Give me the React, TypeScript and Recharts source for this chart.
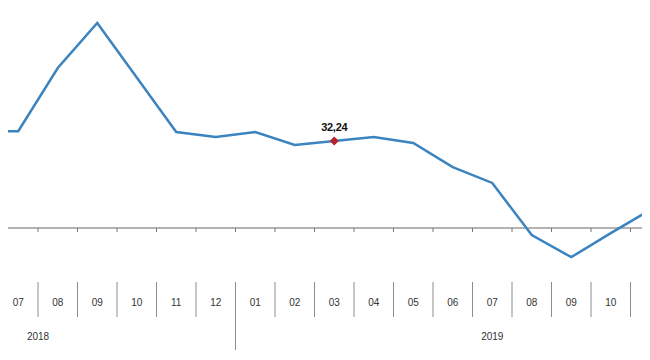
import React from 'react';
import { LineChart, Line, XAxis, YAxis, ReferenceLine } from 'recharts';

// months shown along the axis (06/2018 is half cut off on the left)
const years = [
  '2018', '2018', '2018', '2018', '2018', '2018', '2018',
  '2019', '2019', '2019', '2019', '2019', '2019', '2019', '2019', '2019', '2019', '2019',
];
const months = ['06', '07', '08', '09', '10', '11', '12', '01', '02', '03', '04', '05', '06', '07', '08', '09', '10', '11'];
const values = [35.9, 35.9, 59.3, 76.0, 55.8, 35.6, 33.7, 35.6, 30.8, 32.24, 33.7, 31.5, 22.6, 16.7, -2.6, -10.8, -1.9, 6.7];
const highlightKey = '2019-03';

const data = months.map((m, i) => ({ key: `${years[i]}-${m}`, value: values[i] }));

const CHART_W = 711;
const CHART_H = 360;
const AXIS_H = 95;
const Y_MIN = -13.7;
const Y_MAX = 84.5;
const PLOT_H = CHART_H - AXIS_H;
const ZERO_UP = ((0 - Y_MIN) / (Y_MAX - Y_MIN)) * PLOT_H;
const BAND = CHART_W / months.length;
const FONT = '"Liberation Sans", Arial, sans-serif';

const MonthTick = (props: any) => {
  const { x, y, payload } = props;
  const [yr, m] = String(payload.value).split('-');
  const left = x - BAND / 2;
  const zeroY = y - ZERO_UP;
  const yearStart = m === '01';
  return (
    <g fontFamily={FONT}>
      <line x1={left} x2={left} y1={zeroY} y2={zeroY + 4} stroke="#777" />
      <line x1={left} x2={left} y1={y + 17} y2={y + (yearStart ? 85 : 52)} stroke="#8c8c8c" />
      <text x={x} y={y + 41} textAnchor="middle" fontSize={10} fill="#333">{m}</text>
      {yr === '2018' && m === '08' && (
        <text x={left} y={y + 75} textAnchor="middle" fontSize={10} fill="#333">2018</text>
      )}
      {yr === '2019' && m === '07' && (
        <text x={x} y={y + 75} textAnchor="middle" fontSize={10} fill="#333">2019</text>
      )}
    </g>
  );
};

const Marker = (props: any) => {
  const { cx, cy, payload, index } = props;
  if (payload.key !== highlightKey) return <g key={`d${index}`} />;
  const s = 4.5;
  return (
    <g key={`d${index}`}>
      <polygon
        points={`${cx},${cy - s} ${cx + s},${cy} ${cx},${cy + s} ${cx - s},${cy}`}
        fill="#b3222a"
      />
      <text x={cx} y={cy - 10} textAnchor="middle" fontSize={11} fontWeight="bold" fill="#111" fontFamily={FONT} letterSpacing={-0.3}>
        {payload.value.toFixed(2).replace('.', ',')}
      </text>
    </g>
  );
};

export default function App() {
  return (
    <div style={{ width: 650, height: 360, margin: -8, position: 'relative', overflow: 'hidden', background: '#fff' }}>
      <div style={{ position: 'absolute', left: -BAND * 1.05, top: 0 }}>
        <LineChart width={CHART_W} height={CHART_H} data={data} margin={{ top: 0, right: 0, bottom: 0, left: 0 }}>
          <XAxis
            dataKey="key"
            scale="band"
            height={AXIS_H}
            axisLine={false}
            tickLine={false}
            tickSize={0}
            tickMargin={0}
            interval={0}
            tick={<MonthTick />}
          />
          <YAxis hide type="number" domain={[Y_MIN, Y_MAX]} />
          <ReferenceLine y={0} stroke="#b3b3b3" strokeWidth={2} />
          <Line
            type="linear"
            dataKey="value"
            stroke="#3b84bf"
            strokeWidth={2.5}
            dot={<Marker />}
            activeDot={false}
            isAnimationActive={false}
          />
        </LineChart>
      </div>
    </div>
  );
}
